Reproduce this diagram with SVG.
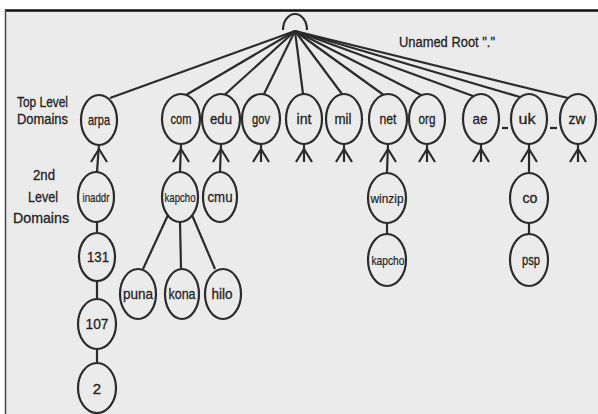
<svg xmlns="http://www.w3.org/2000/svg" width="598" height="414" viewBox="0 0 598 414">
<style>
.n ellipse{fill:none;stroke:#2b2b2b;stroke-width:2.2}
.n text{font-family:"Liberation Sans",Arial,sans-serif;font-size:15px;fill:#222;text-anchor:middle;stroke:#222;stroke-width:0.3}
.n text.s{font-size:13px;stroke-width:0.2}
.e line,.e path,.e polyline{stroke:#2b2b2b;stroke-width:2.2;fill:none}
.lbl{font-family:"Liberation Sans",Arial,sans-serif;font-size:15px;fill:#222;stroke:#222;stroke-width:0.3}
.lbl.t{font-size:14px}
</style>
<rect x="0" y="0" width="598" height="414" fill="#ffffff"/>
<rect x="5" y="10" width="593" height="404" fill="#ebebeb"/>
<line x1="5" y1="10.5" x2="598" y2="10.5" stroke="#111" stroke-width="2.5"/>
<line x1="5.5" y1="10" x2="5.5" y2="414" stroke="#444" stroke-width="1.5"/>

<g id="labels">
<text class="lbl t" x="17" y="107" textLength="51" lengthAdjust="spacingAndGlyphs">Top Level</text>
<text class="lbl t" x="17" y="124" textLength="51" lengthAdjust="spacingAndGlyphs">Domains</text>
<text class="lbl" x="33" y="180" textLength="22" lengthAdjust="spacingAndGlyphs">2nd</text>
<text class="lbl" x="28" y="202" textLength="30" lengthAdjust="spacingAndGlyphs">Level</text>
<text class="lbl" x="13" y="223" textLength="56" lengthAdjust="spacingAndGlyphs">Domains</text>
<text class="lbl" x="399" y="47" textLength="96" lengthAdjust="spacingAndGlyphs">Unamed Root "."</text>
</g>

<g class="e" id="connectors">
<path d="M283,30 A12,16 0 0 1 307,30" stroke="#555" stroke-width="1.8"/>
<line x1="295" y1="31" x2="110" y2="98"/>
<line x1="295" y1="31" x2="186" y2="95"/>
<line x1="295" y1="31" x2="225" y2="94.5"/>
<line x1="295" y1="31" x2="264" y2="94"/>
<line x1="295" y1="31" x2="303" y2="94"/>
<line x1="295" y1="31" x2="342" y2="94"/>
<line x1="295" y1="31" x2="383" y2="94.5"/>
<line x1="295" y1="31" x2="421" y2="95"/>
<line x1="295" y1="31" x2="473" y2="96"/>
<line x1="295" y1="31" x2="520" y2="97"/>
<line x1="295" y1="31" x2="568" y2="98"/>
<line x1="99" y1="144" x2="97" y2="172"/><polyline points="91,162 99,149 107,162"/>
<line x1="181" y1="144" x2="180" y2="172"/><polyline points="173,162 181,149 189,162"/>
<line x1="221" y1="144" x2="220" y2="172"/><polyline points="213,162 221,149 229,162"/>
<line x1="261" y1="144" x2="261" y2="162"/><polyline points="253,162 261,149 269,162"/>
<line x1="304" y1="144" x2="304" y2="162"/><polyline points="296,162 304,149 312,162"/>
<line x1="344" y1="144" x2="344" y2="162"/><polyline points="336,162 344,149 352,162"/>
<line x1="388" y1="144" x2="387" y2="172"/><polyline points="380,162 388,149 396,162"/>
<line x1="427" y1="144" x2="427" y2="162"/><polyline points="419,162 427,149 435,162"/>
<line x1="481" y1="144" x2="481" y2="162"/><polyline points="473,162 481,149 489,162"/>
<line x1="529" y1="144" x2="529" y2="172"/><polyline points="521,162 529,149 537,162"/>
<line x1="578" y1="144" x2="578" y2="162"/><polyline points="570,162 578,149 586,162"/>
<line x1="502" y1="128" x2="508" y2="128" stroke-width="1.5"/>
<line x1="550" y1="128" x2="557" y2="128" stroke-width="1.5"/>
<line x1="97" y1="222" x2="97" y2="232"/>
<line x1="97" y1="282" x2="97" y2="299"/>
<line x1="97" y1="349" x2="97" y2="363"/>
<line x1="168" y1="215" x2="143" y2="269"/>
<line x1="180" y1="222" x2="181" y2="268"/>
<line x1="192" y1="215" x2="215" y2="269"/>
<line x1="387" y1="223" x2="387" y2="234"/>
<line x1="529" y1="223" x2="529" y2="234"/>
</g>

<g class="n" id="n-arpa"><ellipse cx="99" cy="120" rx="18" ry="25"/><text x="99" y="125" textLength="22" lengthAdjust="spacingAndGlyphs">arpa</text></g>
<g class="n" id="n-com"><ellipse cx="181" cy="119" rx="19" ry="25"/><text x="181" y="124" textLength="21" lengthAdjust="spacingAndGlyphs">com</text></g>
<g class="n" id="n-edu"><ellipse cx="221" cy="119" rx="19" ry="25"/><text x="221" y="124" textLength="22" lengthAdjust="spacingAndGlyphs">edu</text></g>
<g class="n" id="n-gov"><ellipse cx="261" cy="119" rx="19" ry="25"/><text x="261" y="124" textLength="18" lengthAdjust="spacingAndGlyphs">gov</text></g>
<g class="n" id="n-int"><ellipse cx="304" cy="119" rx="18" ry="25"/><text x="304" y="124" textLength="15" lengthAdjust="spacingAndGlyphs">int</text></g>
<g class="n" id="n-mil"><ellipse cx="344" cy="119" rx="18" ry="25"/><text x="343" y="124" textLength="17" lengthAdjust="spacingAndGlyphs">mil</text></g>
<g class="n" id="n-net"><ellipse cx="388" cy="119" rx="19" ry="25"/><text x="388" y="124" textLength="17" lengthAdjust="spacingAndGlyphs">net</text></g>
<g class="n" id="n-org"><ellipse cx="427" cy="119" rx="18" ry="25"/><text x="427" y="124" textLength="17" lengthAdjust="spacingAndGlyphs">org</text></g>
<g class="n" id="n-ae"><ellipse cx="481" cy="119" rx="18" ry="25"/><text x="480" y="124" textLength="15" lengthAdjust="spacingAndGlyphs">ae</text></g>
<g class="n" id="n-uk"><ellipse cx="529" cy="119" rx="18" ry="25"/><text x="527" y="124" textLength="17" lengthAdjust="spacingAndGlyphs">uk</text></g>
<g class="n" id="n-zw"><ellipse cx="578" cy="119" rx="18" ry="25"/><text x="577" y="124" textLength="17" lengthAdjust="spacingAndGlyphs">zw</text></g>

<g class="n" id="n-inaddr"><ellipse cx="96" cy="197" rx="18" ry="25"/><text class="s" x="96" y="202" textLength="27" lengthAdjust="spacingAndGlyphs">inaddr</text></g>
<g class="n" id="n-kapcho1"><ellipse cx="180" cy="197" rx="18" ry="25"/><text class="s" x="180" y="202" textLength="31" lengthAdjust="spacingAndGlyphs">kapcho</text></g>
<g class="n" id="n-cmu"><ellipse cx="220" cy="197" rx="17" ry="25"/><text x="220" y="202" textLength="25" lengthAdjust="spacingAndGlyphs">cmu</text></g>
<g class="n" id="n-winzip"><ellipse cx="387" cy="198" rx="19" ry="25"/><text class="s" x="387" y="203" textLength="33" lengthAdjust="spacingAndGlyphs">winzip</text></g>
<g class="n" id="n-co"><ellipse cx="529" cy="198" rx="19" ry="25"/><text x="530" y="203" textLength="15" lengthAdjust="spacingAndGlyphs">co</text></g>

<g class="n" id="n-131"><ellipse cx="97" cy="257" rx="18" ry="24"/><text x="98" y="262" textLength="22" lengthAdjust="spacingAndGlyphs">131</text></g>
<g class="n" id="n-kapcho2"><ellipse cx="387" cy="260" rx="19" ry="26"/><text class="s" x="388" y="265" textLength="33" lengthAdjust="spacingAndGlyphs">kapcho</text></g>
<g class="n" id="n-psp"><ellipse cx="529" cy="260" rx="19" ry="26"/><text x="531" y="265" textLength="18" lengthAdjust="spacingAndGlyphs">psp</text></g>
<g class="n" id="n-puna"><ellipse cx="138" cy="294" rx="18" ry="25"/><text x="138" y="299" textLength="30" lengthAdjust="spacingAndGlyphs">puna</text></g>
<g class="n" id="n-kona"><ellipse cx="182" cy="294" rx="17" ry="25"/><text x="182" y="299" textLength="27" lengthAdjust="spacingAndGlyphs">kona</text></g>
<g class="n" id="n-hilo"><ellipse cx="223" cy="294" rx="18" ry="25"/><text x="222" y="299" textLength="21" lengthAdjust="spacingAndGlyphs">hilo</text></g>
<g class="n" id="n-107"><ellipse cx="97" cy="324" rx="19" ry="25"/><text x="97" y="329" textLength="23" lengthAdjust="spacingAndGlyphs">107</text></g>
<g class="n" id="n-2"><ellipse cx="97" cy="388" rx="19" ry="25"/><text x="97" y="394">2</text></g>
</svg>
